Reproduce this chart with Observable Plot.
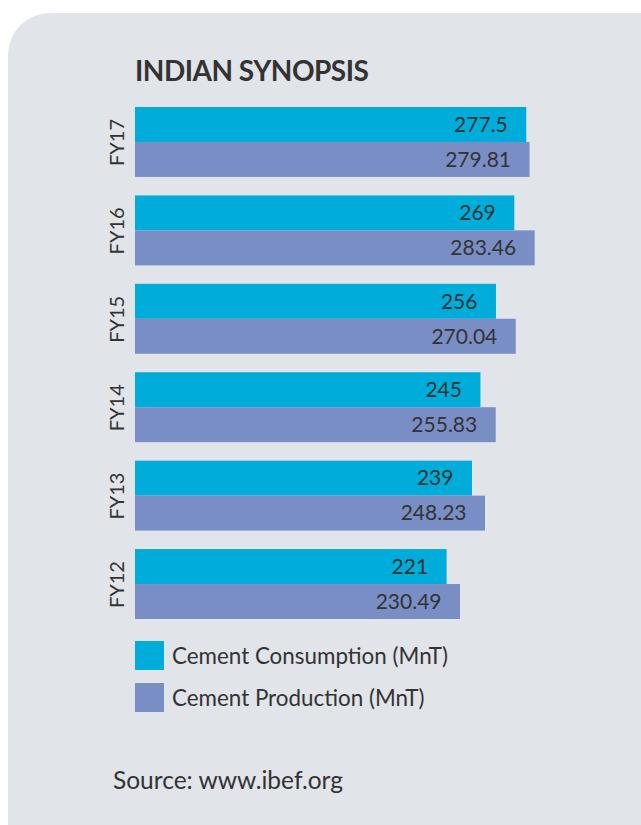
<!DOCTYPE html>
<html>
<head>
<meta charset="utf-8">
<script src="https://cdn.jsdelivr.net/npm/d3@7"></script>
<script src="https://cdn.jsdelivr.net/npm/@observablehq/plot@0.6"></script>
<style>
  html, body { margin: 0; padding: 0; background: #ffffff; width: 641px; height: 825px; overflow: hidden; }
  #panel { position: absolute; left: 8px; top: 13px; width: 700px; height: 900px; border-radius: 42px; background: #e1e4e9; }
  #title { position: absolute; left: 135px; top: 53px; font-family: Lato, sans-serif; font-weight: 700; font-size: 28px; color: #333; letter-spacing: -0.5px; }
  #chart { position: absolute; left: 0; top: 0; }
  .leg { position: absolute; left: 135px; font-family: Lato, sans-serif; font-size: 22.4px; color: #333; display: flex; align-items: center; }
  .sw { width: 29px; height: 29px; margin-right: 8px; }
  #source { position: absolute; left: 113px; top: 765px; font-family: Lato, sans-serif; font-size: 24.5px; color: #333; }
</style>
</head>
<body>
<div id="panel"></div>
<div id="title">INDIAN SYNOPSIS</div>
<div id="chart"></div>
<div id="legend"></div>
<div id="source">Source: www.ibef.org</div>
<script>
const years = ["FY17", "FY16", "FY15", "FY14", "FY13", "FY12"];
const seriesNames = ["Cement Consumption (MnT)", "Cement Production (MnT)"];
const seriesColors = ["#00acd9", "#7a8ec6"];
const consumption = [277.5, 269, 256, 245, 239, 221];
const production = [279.81, 283.46, 270.04, 255.83, 248.23, 230.49];
const consumptionLabels = ["277.5", "269", "256", "245", "239", "221"];
const productionLabels = ["279.81", "283.46", "270.04", "255.83", "248.23", "230.49"];

const data = [];
years.forEach((y, i) => {
  data.push({year: y, series: seriesNames[0], value: consumption[i], label: consumptionLabels[i]});
  data.push({year: y, series: seriesNames[1], value: production[i], label: productionLabels[i]});
});

const chart = Plot.plot({
  width: 641,
  height: 625,
  marginTop: 107,
  marginBottom: 6,
  marginLeft: 135,
  marginRight: 83,
  style: {background: "transparent", fontFamily: "Lato, sans-serif"},
  x: {domain: [0, 300], axis: null},
  y: {domain: seriesNames, padding: 0, round: false, axis: null},
  fy: {domain: years, paddingInner: 0.209, paddingOuter: 0, round: false, label: null},
  color: {domain: seriesNames, range: seriesColors},
  marks: [
    Plot.barX(data, {fy: "year", y: "series", x: "value", fill: "series"}),
    Plot.text(data, {fy: "year", y: "series", x: "value", text: "label", textAnchor: "end", dx: -19, fontSize: 21, fill: "#333"}),
    Plot.axisFy({anchor: "left", tickRotate: -90, tickSize: 0, tickPadding: 12, fontSize: 20, color: "#333", label: null})
  ]
});
document.getElementById("chart").appendChild(chart);

const legend = document.getElementById("legend");
seriesNames.forEach((name, i) => {
  const row = document.createElement("div");
  row.className = "leg";
  row.style.top = (641 + i * 42) + "px";
  const sw = document.createElement("div");
  sw.className = "sw";
  sw.style.background = seriesColors[i];
  const t = document.createElement("span");
  t.textContent = name;
  row.appendChild(sw);
  row.appendChild(t);
  legend.appendChild(row);
});
</script>
</body>
</html>
